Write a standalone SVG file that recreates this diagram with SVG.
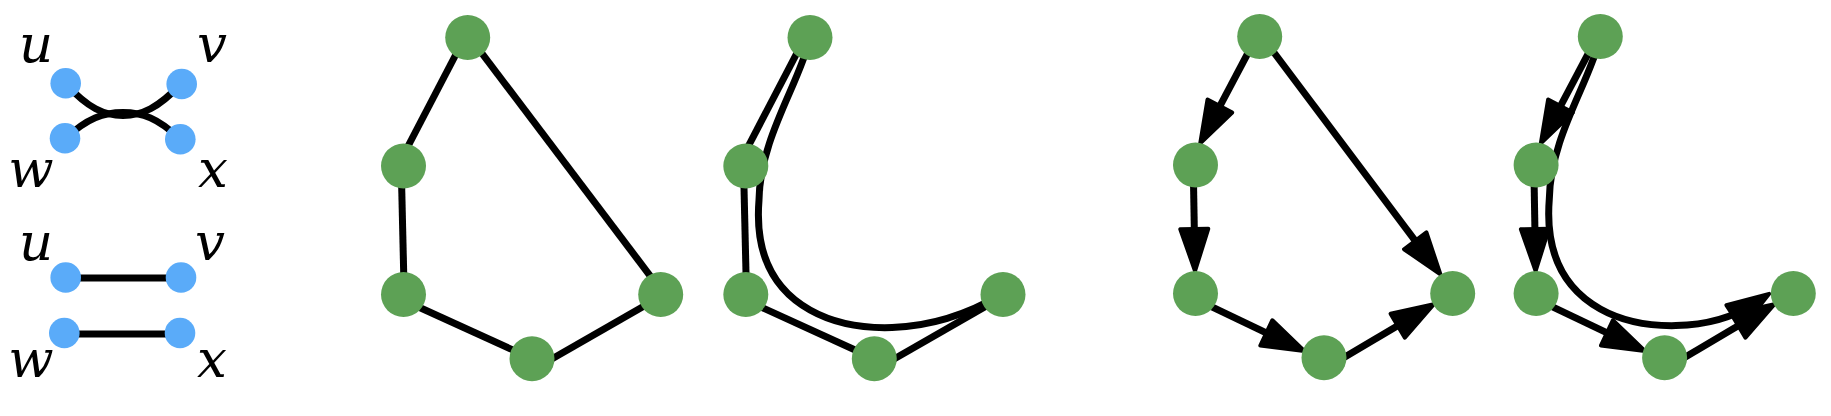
<svg xmlns="http://www.w3.org/2000/svg" width="1831" height="416" viewBox="0 0 1831 416">
<style>
.bg{fill:#ffffff}
.e{fill:none;stroke:#000;stroke-width:7;stroke-linecap:butt}
.ea{fill:none;stroke:#000;stroke-width:7;stroke-linecap:butt;marker-end:url(#ah)}
.bn{fill:#5aabf9}
.gn{fill:#5da155}
.lb{font-family:"DejaVu Serif","Liberation Serif",serif;font-style:italic;font-size:53px;fill:#000;text-anchor:middle}
</style>
<defs>
<marker id="ah" markerUnits="userSpaceOnUse" markerWidth="60" markerHeight="40" viewBox="-5 -20 60 40" refX="24" refY="0" orient="auto" overflow="visible">
<path d="M0,-14 L42,0 L0,14 Z" fill="#000" stroke="#000" stroke-width="4" stroke-linejoin="round"/>
</marker>
</defs>
<rect class="bg" x="0" y="0" width="1831" height="416"/>

<!-- Panel 1: touching and parallel -->
<g id="connectors-p1">
<path class="e" d="M66,84 C88,108 104,115.5 123,115.5 C142,115.5 158,108 181,84"/>
<path class="e" d="M65,139 C87,118 104,112.5 123,112.5 C142,112.5 158,118 180,139"/>
<path class="e" d="M65.7,278 L181,278"/>
<path class="e" d="M64.3,334 L180,334"/>
</g>
<g id="p1-u1"><circle class="bn" cx="65.7" cy="83.3" r="15.3"/><text class="lb" x="36" y="62">u</text></g>
<g id="p1-v1"><circle class="bn" cx="181.7" cy="84" r="15.3"/><text class="lb" x="212" y="62">v</text></g>
<g id="p1-w1"><circle class="bn" cx="65" cy="138.3" r="15.3"/><text class="lb" x="31" y="187">w</text></g>
<g id="p1-x1"><circle class="bn" cx="180.3" cy="139.3" r="15.3"/><text class="lb" x="213" y="187">x</text></g>
<g id="p1-u2"><circle class="bn" cx="65.7" cy="277.5" r="15.3"/><text class="lb" x="36" y="260">u</text></g>
<g id="p1-v2"><circle class="bn" cx="181" cy="277.5" r="15.3"/><text class="lb" x="210" y="260">v</text></g>
<g id="p1-w2"><circle class="bn" cx="64.3" cy="333" r="15.3"/><text class="lb" x="31" y="377">w</text></g>
<g id="p1-x2"><circle class="bn" cx="180" cy="333" r="15.3"/><text class="lb" x="212" y="377">x</text></g>

<!-- Panel 2: undirected cycle -->
<g transform="translate(467.7,37.5)">
<g id="connectors-p2">
<path class="e" d="M-3,0 L-70,128.5"/>
<path class="e" d="M-66.5,128.5 L-63.5,257"/>
<path class="e" d="M-64,262.7 L64.3,321.2"/>
<path class="e" d="M64,333 L193,259"/>
<path class="e" d="M0,-3 L193,252.3"/>
</g>
<g id="p2-a"><circle class="gn" cx="0" cy="0" r="22.5"/></g>
<g id="p2-b"><circle class="gn" cx="-64.2" cy="128.5" r="22.5"/></g>
<g id="p2-c"><circle class="gn" cx="-64.2" cy="257" r="22.5"/></g>
<g id="p2-d"><circle class="gn" cx="64.3" cy="321.2" r="22.5"/></g>
<g id="p2-e"><circle class="gn" cx="193" cy="257" r="22.5"/></g>
</g>

<!-- Panel 3: undirected with long curve -->
<g transform="translate(810,37.5)">
<g id="connectors-p3">
<path class="e" d="M-5,0 L-72,128.5"/>
<path class="e" d="M-66.5,128.5 L-63.5,257"/>
<path class="e" d="M-64,262.7 L64.3,321.2"/>
<path class="e" d="M64,333 L193,259"/>
<path class="e" d="M0,0.5 C-10,45 -50,100 -51,162.5 C-55,212.5 -40,250 0,272.5 C40,295 115,302 192,256.5"/>
</g>
<g id="p3-a"><circle class="gn" cx="0" cy="0" r="22.5"/></g>
<g id="p3-b"><circle class="gn" cx="-64.2" cy="128.5" r="22.5"/></g>
<g id="p3-c"><circle class="gn" cx="-64.2" cy="257" r="22.5"/></g>
<g id="p3-d"><circle class="gn" cx="64.3" cy="321.2" r="22.5"/></g>
<g id="p3-e"><circle class="gn" cx="193" cy="257" r="22.5"/></g>
</g>

<!-- Panel 4: directed cycle -->
<g transform="translate(1259.7,36.5)">
<g id="connectors-p4">
<path class="ea" d="M-3,0 L-51.05,90.8"/>
<path class="ea" d="M-66.5,128.5 L-64.97,216.5"/>
<path class="ea" d="M-64,262.7 L28.3,306.7"/>
<path class="ea" d="M64,333 L158.65,276.95"/>
<path class="ea" d="M0,-3 L169.94,223.54"/>
</g>
<g id="p4-a"><circle class="gn" cx="0" cy="0" r="22.5"/></g>
<g id="p4-b"><circle class="gn" cx="-64.2" cy="128.5" r="22.5"/></g>
<g id="p4-c"><circle class="gn" cx="-64.2" cy="257" r="22.5"/></g>
<g id="p4-d"><circle class="gn" cx="64.3" cy="321.2" r="22.5"/></g>
<g id="p4-e"><circle class="gn" cx="193" cy="257" r="22.5"/></g>
</g>

<!-- Panel 5: directed with long curve -->
<g transform="translate(1600.3,36.5)">
<g id="connectors-p5">
<path class="ea" d="M-3,0 L-51.05,90.8"/>
<path class="ea" d="M-66.5,128.5 L-64.97,216.5"/>
<path class="ea" d="M-64,262.7 L28.3,306.7"/>
<path class="ea" d="M64,333 L158.65,276.95"/>
<path class="ea" d="M0,0.5 C-10,45 -50,100 -51,162.5 C-55,212.5 -40,250 0,272.5 C40,295 110,296 153.8,267.2"/>
</g>
<g id="p5-a"><circle class="gn" cx="0" cy="0" r="22.5"/></g>
<g id="p5-b"><circle class="gn" cx="-64.2" cy="128.5" r="22.5"/></g>
<g id="p5-c"><circle class="gn" cx="-64.2" cy="257" r="22.5"/></g>
<g id="p5-d"><circle class="gn" cx="64.3" cy="321.2" r="22.5"/></g>
<g id="p5-e"><circle class="gn" cx="193" cy="257" r="22.5"/></g>
</g>
</svg>
